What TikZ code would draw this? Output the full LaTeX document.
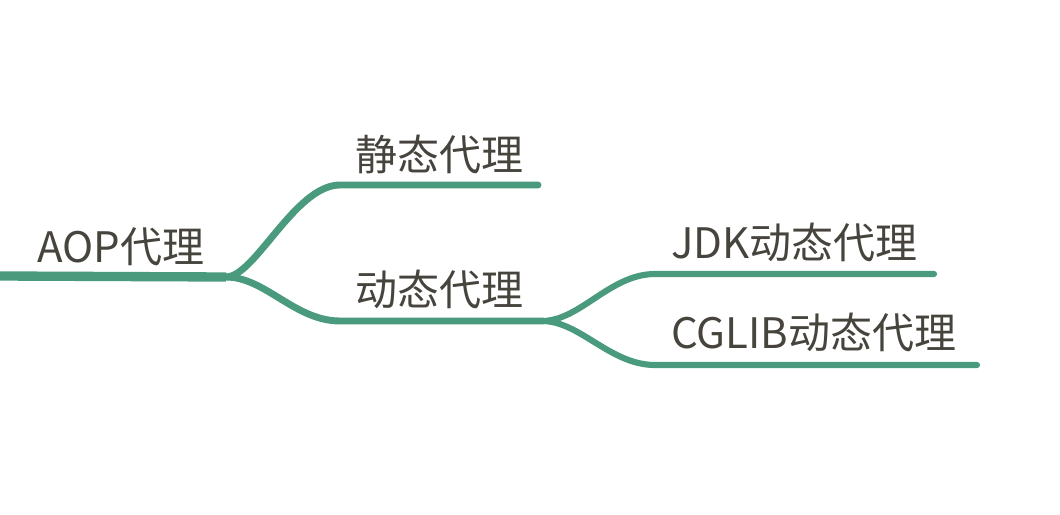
\documentclass[tikz,border=0pt]{standalone}
\usepackage{fontspec}
\newfontfamily\cjk{Noto Sans CJK SC}
\definecolor{mapgreen}{HTML}{4A9A7E}
\definecolor{maptext}{HTML}{47443E}
\tikzset{
  topic/.style={anchor=base west, inner sep=0pt, text=maptext, font=\cjk\fontsize{31.5}{36}\selectfont},
  branch/.style={draw=mapgreen, line width=5.2pt, line cap=round},
}

\begin{document}
\begin{tikzpicture}[x=0.75pt,y=-0.75pt]
    \useasboundingbox (0,0) rectangle (1060,514);

    % forks and ends
    \coordinate (root) at (0,276);
    \coordinate (fork) at (226,277);
    \coordinate (jt) at (340,185);
    \coordinate (jtend) at (538,185);
    \coordinate (dt) at (340,321);
    \coordinate (dtend) at (542,321);
    \coordinate (jdk) at (655,274);
    \coordinate (jdkend) at (934,274);
    \coordinate (cg) at (655,365);
    \coordinate (cgend) at (977,365);

    % lines
    \draw [branch, line width=7pt, line cap=butt] (root) -- (fork);
    \draw [branch] (fork) .. controls (255,277) and (295,185) .. (jt) -- (jtend);
    \draw [branch] (fork) .. controls (265,277) and (295,321) .. (dt) -- (dtend);
    \draw [branch, line width=4.6pt] (dtend) .. controls (580,321) and (610,274) .. (jdk) -- (jdkend);
    \draw [branch, line width=4.6pt] (dtend) .. controls (580,321) and (610,365) .. (cg) -- (cgend);

    % labels
    \node [topic] (aop) at (37,262) {AOP代理};
    \node [topic] (static) at (355,170) {静态代理};
    \node [topic] (dynamic) at (355,305) {动态代理};
    \node [topic] (jdkproxy) at (671,258) {JDK动态代理};
    \node [topic] (cglib) at (671,348) {CGLIB动态代理};
\end{tikzpicture}
\end{document}
